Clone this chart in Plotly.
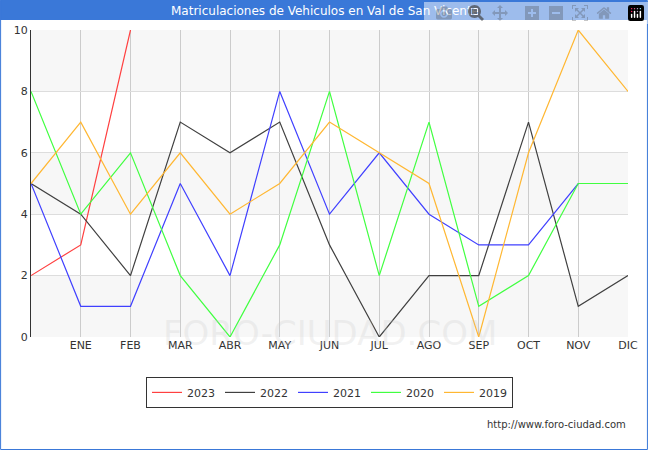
import plotly.graph_objects as go

x_labels = ["", "ENE", "FEB", "MAR", "ABR", "MAY", "JUN", "JUL", "AGO", "SEP", "OCT", "NOV", "DIC"]
s2023 = [2, 3, 10]
s2022 = [5, 4, 2, 7, 6, 7, 3, 0, 2, 2, 7, 1, 2]
s2021 = [5, 1, 1, 5, 2, 8, 4, 6, 4, 3, 3, 5, 5]
s2020 = [8, 4, 6, 2, 0, 3, 8, 2, 7, 1, 2, 5, 5]
s2019 = [5, 7, 4, 6, 4, 5, 7, 6, 5, 0, 6, 10, 8]

series = [("2023", s2023, "#ff4040"), ("2022", s2022, "#404040"), ("2021", s2021, "#4040ff"),
          ("2020", s2020, "#40ff40"), ("2019", s2019, "#ffb732")]

fig = go.Figure()
for name, vals, col in series:
    fig.add_trace(go.Scatter(x=list(range(len(vals))), y=vals, mode="lines", name=name,
                             line=dict(color=col, width=1.2)))

PW, PH = 599, 307
shapes = []
for y0 in (0, 4, 8):
    shapes.append(dict(type="rect", xref="paper", yref="y", x0=0, x1=1, y0=y0, y1=y0 + 2,
                       fillcolor="#f7f7f7", line_width=0, layer="below"))
shapes.append(dict(type="rect", xref="paper", yref="paper", x0=-31/PW, x1=1 + 19/PW,
                   y0=1 + 10/PH, y1=1 + 30/PH, fillcolor="#3a78d8", line_width=0, layer="below"))
shapes.append(dict(type="rect", xref="paper", yref="paper", x0=-30.5/PW, x1=1 + 19.5/PW,
                   y0=-112.5/PH, y1=1 + 29.5/PH, line=dict(color="#3a78d8", width=1)))

fig.update_layout(
    width=650, height=450, margin=dict(l=31, r=20, t=30, b=113),
    paper_bgcolor="white", plot_bgcolor="white",
    font=dict(family="DejaVu Sans", size=11, color="#333"),
    title=dict(text="Matriculaciones de Vehiculos en Val de San Vicente", x=0.5, xanchor="center",
               y=1 - 11/450, yanchor="middle", font=dict(color="white", size=12)),
    showlegend=True,
    legend=dict(orientation="h", x=0.5, xanchor="center", y=-0.13, yanchor="top",
                bordercolor="#333", borderwidth=1, font=dict(size=11)),
    xaxis=dict(range=[0, 12], tickvals=list(range(13)), ticktext=x_labels,
               showgrid=True, gridcolor="#cccccc", zeroline=False, showline=False, ticks=""),
    yaxis=dict(range=[0, 10], dtick=2, showgrid=True, gridcolor="#dddddd", zeroline=False,
               showline=True, linecolor="#333", ticks=""),
    shapes=shapes,
)
fig.add_annotation(text="FORO-CIUDAD.COM", xref="paper", yref="paper", x=0.5, y=-0.06,
                   showarrow=False, font=dict(size=34, color="rgba(200,200,200,0.25)"))
fig.add_annotation(text="http://www.foro-ciudad.com", xref="paper", yref="paper", x=1.0, y=-0.31,
                   xanchor="right", showarrow=False, font=dict(size=10, color="#333"))
fig.write_html("out.html", post_script="document.body.style.margin='0';")
